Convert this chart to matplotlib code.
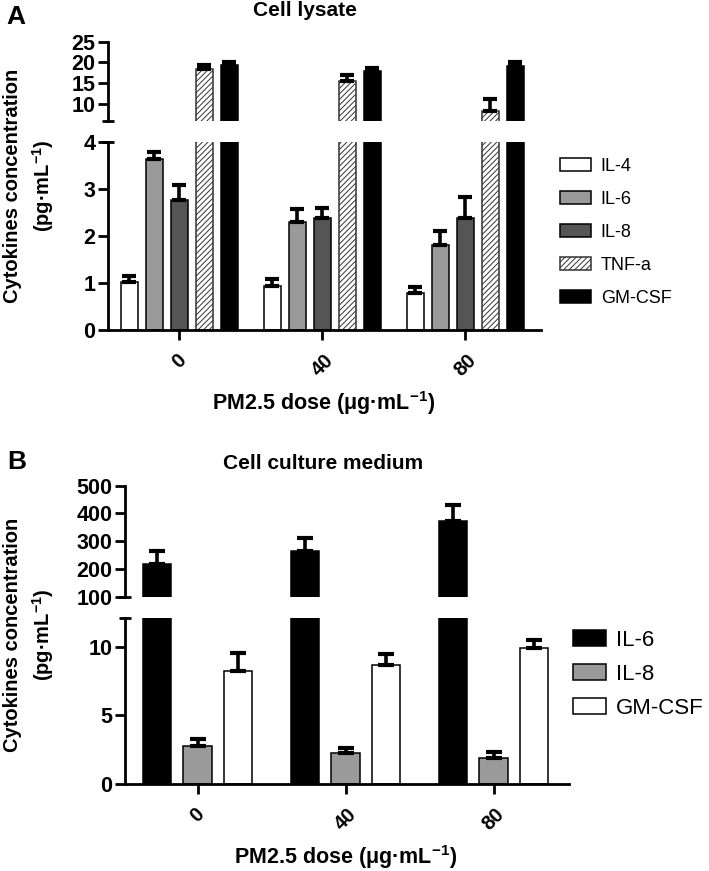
import numpy as np
import matplotlib
matplotlib.use("Agg")
import matplotlib.pyplot as plt

plt.rcParams['font.family'] = ['Liberation Sans', 'DejaVu Sans']
plt.rcParams['mathtext.fontset'] = 'custom'
plt.rcParams['mathtext.rm'] = 'Liberation Sans'
plt.rcParams['mathtext.bf'] = 'Liberation Sans:bold'
plt.rcParams['hatch.linewidth'] = 0.7

# data
doses = ['0', '40', '80']

lysate_names = ['IL-4', 'IL-6', 'IL-8', 'TNF-a', 'GM-CSF']
lysate_il4 = [1.02, 0.94, 0.79]
lysate_il4_err = [0.14, 0.15, 0.12]
lysate_il6 = [3.64, 2.30, 1.82]
lysate_il6_err = [0.16, 0.27, 0.30]
lysate_il8 = [2.78, 2.39, 2.39]
lysate_il8_err = [0.30, 0.22, 0.45]
lysate_tnf = [18.5, 15.5, 8.2]
lysate_tnf_err = [0.8, 1.4, 2.9]
lysate_gmcsf = [19.3, 17.9, 19.1]
lysate_gmcsf_err = [0.8, 0.8, 1.0]

medium_names = ['IL-6', 'IL-8', 'GM-CSF']
medium_il6 = [217, 266, 374]
medium_il6_err = [48, 47, 56]
medium_il8 = [2.77, 2.24, 1.88]
medium_il8_err = [0.51, 0.41, 0.48]
medium_gmcsf = [8.25, 8.69, 9.9]
medium_gmcsf_err = [1.29, 0.80, 0.6]

W, H = 709, 871
fig = plt.figure(figsize=(W/100, H/100), dpi=100)

TICK_FS = 15.5


def px_axes(x0, x1, ytop, ybot):
    return fig.add_axes([x0/W, 1 - ybot/H, (x1 - x0)/W, (ybot - ytop)/H])


def style(ax, bottom):
    for s in ['top', 'right']:
        ax.spines[s].set_visible(False)
    ax.spines['left'].set_linewidth(2)
    ax.spines['bottom'].set_linewidth(2)
    ax.spines['bottom'].set_visible(bottom)
    ax.tick_params(axis='y', direction='out', length=7, width=2,
                   labelsize=TICK_FS, pad=2)
    for t in ax.get_yticklabels():
        t.set_fontweight('bold')
    if bottom:
        ax.tick_params(axis='x', direction='out', length=7, width=2, pad=8)
    else:
        ax.tick_params(axis='x', bottom=False, labelbottom=False)


def break_mark(ax, y):
    ax.plot([0], [y], marker='_', markersize=8, markeredgewidth=2,
            color='k', clip_on=False, transform=ax.get_yaxis_transform())


def draw_group(axes, series, errs, colors, hatches, offsets, width, capsize):
    x = np.arange(len(doses))
    handles = []
    for k in range(len(series)):
        for ax in axes:
            ec = '#333333' if hatches[k] else 'black'
            b = ax.bar(x + offsets[k], series[k], width, color=colors[k],
                       edgecolor=ec, linewidth=1.1, hatch=hatches[k], zorder=2)
            ax.errorbar(x + offsets[k], series[k],
                        yerr=[np.zeros(len(errs[k])), errs[k]],
                        fmt='none', ecolor='black', elinewidth=2.6,
                        capsize=capsize, capthick=3, zorder=3)
        handles.append(b)
    return handles


# ---------------- panel A : cell lysate ----------------
a_hi = px_axes(108, 541, 41.7, 121)
a_lo = px_axes(108, 541, 142.3, 330)
a_series = [lysate_il4, lysate_il6, lysate_il8, lysate_tnf, lysate_gmcsf]
a_errs = [lysate_il4_err, lysate_il6_err, lysate_il8_err, lysate_tnf_err,
          lysate_gmcsf_err]
a_colors = ['white', '#9a9a9a', '#555555', 'white', 'black']
a_hatch = [None, None, None, '//////', None]
a_off = [(i - 2) * 0.175 for i in range(5)]
a_handles = draw_group([a_hi, a_lo], a_series, a_errs, a_colors, a_hatch,
                       a_off, 0.119, 4.7)
for ax in (a_hi, a_lo):
    ax.set_xlim(-0.50, 2.53)
a_hi.set_ylim(5.8, 25)
a_hi.set_yticks([10, 15, 20, 25])
a_lo.set_ylim(0, 4)
a_lo.set_yticks([0, 1, 2, 3, 4])
a_lo.set_xticks(np.arange(3))
a_lo.set_xticklabels(doses, rotation=45, ha='center', fontweight='bold',
                     fontsize=14.5)
style(a_hi, False)
style(a_lo, True)
break_mark(a_hi, 5.8)
break_mark(a_lo, 4)

fig.text(16/W, 1 - 17/H, 'A', fontsize=19, fontweight='bold',
         ha='center', va='center')
fig.text(305/W, 1 - 11/H, 'Cell lysate', fontsize=15, fontweight='bold',
         ha='center', va='center')
fig.text(13/W, 1 - 186/H, 'Cytokines concentration', rotation=90,
         fontsize=14.5, fontweight='bold', ha='center', va='center')
fig.text(43/W, 1 - 186/H, r'(pg·mL$^{\mathbf{-1}}$)', rotation=90,
         fontsize=14.5, fontweight='bold', ha='center', va='center')
fig.text(324/W, 1 - 403/H, r'PM2.5 dose (μg·mL$^{\mathbf{-1}}$)',
         fontsize=15.5, fontweight='bold', ha='center', va='center')
fig.legend(a_handles, lysate_names, loc='upper left',
           bbox_to_anchor=(560/W, 1 - 158/H), frameon=False, fontsize=13,
           handlelength=1.7, handleheight=0.75, handletextpad=0.55,
           labelspacing=0.88, borderpad=0, borderaxespad=0)

# ---------------- panel B : cell culture medium ----------------
b_hi = px_axes(125, 569, 485.7, 596.7)
b_lo = px_axes(125, 569, 618, 784)
b_series = [medium_il6, medium_il8, medium_gmcsf]
b_errs = [medium_il6_err, medium_il8_err, medium_gmcsf_err]
b_colors = ['black', '#9a9a9a', 'white']
b_hatch = [None, None, None]
b_off = [(i - 1) * 0.274 for i in range(3)]
b_handles = draw_group([b_hi, b_lo], b_series, b_errs, b_colors, b_hatch,
                       b_off, 0.19, 5.8)
for ax in (b_hi, b_lo):
    ax.set_xlim(-0.49, 2.51)
b_hi.set_ylim(100, 500)
b_hi.set_yticks([100, 200, 300, 400, 500])
b_lo.set_ylim(0, 12.1)
b_lo.set_yticks([0, 5, 10])
b_lo.set_xticks(np.arange(3))
b_lo.set_xticklabels(doses, rotation=45, ha='center', fontweight='bold',
                     fontsize=14.5)
style(b_hi, False)
style(b_lo, True)
break_mark(b_hi, 100)
break_mark(b_lo, 12.1)

fig.text(17/W, 1 - 462/H, 'B', fontsize=19, fontweight='bold',
         ha='center', va='center')
fig.text(323/W, 1 - 463/H, 'Cell culture medium', fontsize=15,
         fontweight='bold', ha='center', va='center')
fig.text(13/W, 1 - 635/H, 'Cytokines concentration', rotation=90,
         fontsize=14.5, fontweight='bold', ha='center', va='center')
fig.text(43/W, 1 - 635/H, r'(pg·mL$^{\mathbf{-1}}$)', rotation=90,
         fontsize=14.5, fontweight='bold', ha='center', va='center')
fig.text(346/W, 1 - 857/H, r'PM2.5 dose (μg·mL$^{\mathbf{-1}}$)',
         fontsize=15.5, fontweight='bold', ha='center', va='center')
fig.legend(b_handles, medium_names, loc='upper left',
           bbox_to_anchor=(573/W, 1 - 630/H), frameon=False, fontsize=16,
           handlelength=1.5, handleheight=0.75, handletextpad=0.45,
           labelspacing=0.58, borderpad=0, borderaxespad=0)

fig.savefig('out.png', dpi=100)
